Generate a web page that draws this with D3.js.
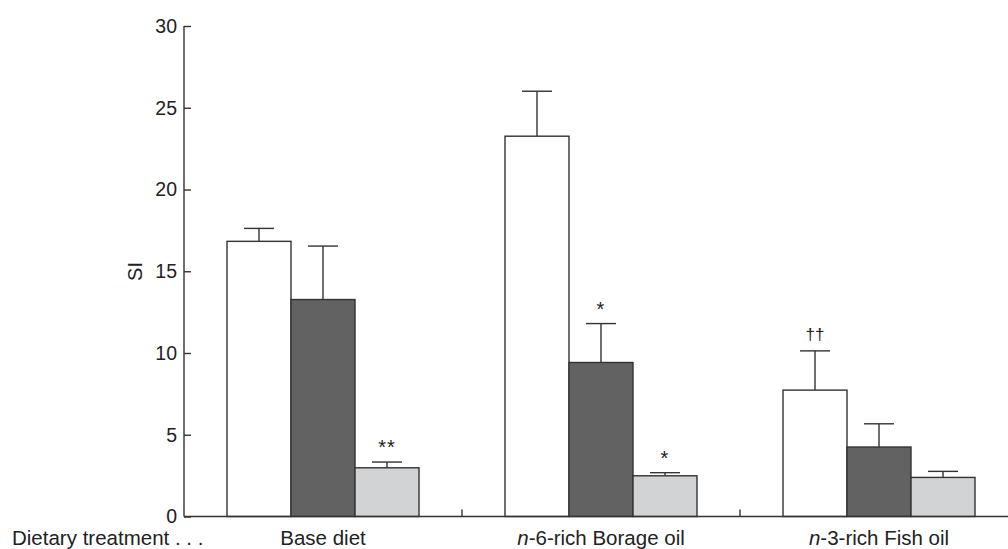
<!DOCTYPE html>
<html>
<head>
<meta charset="utf-8">
<script src="https://cdn.jsdelivr.net/npm/d3@7"></script>
<style>
  body { margin: 0; background: #fff; }
  text { font-family: 'Liberation Sans', Arial, sans-serif; fill: #222; }
</style>
</head>
<body>
<div id="chart"></div>
<script>
// data
var groups = ['Base diet', 'n-6-rich Borage oil', 'n-3-rich Fish oil'];
var series = ['a', 'b', 'c'];
var whiteMean = [16.83, 23.26, 7.73];
var whiteSE = [0.79, 2.75, 2.4];
var darkMean = [13.27, 9.42, 4.25];
var darkSE = [3.27, 2.38, 1.42];
var lightMean = [2.98, 2.49, 2.39];
var lightSE = [0.35, 0.19, 0.37];
var whiteMarks = ['', '', '\u2020\u2020'];
var darkMarks = ['', '*', ''];
var lightMarks = ['**', '*', ''];
var yTicks = [0, 5, 10, 15, 20, 25, 30];

var colors = { a: '#ffffff', b: '#626262', c: '#d2d3d5' };

var rows = [];
groups.forEach(function (g, i) {
  rows.push({ group: g, s: 'a', v: whiteMean[i], se: whiteSE[i], mark: whiteMarks[i] });
  rows.push({ group: g, s: 'b', v: darkMean[i], se: darkSE[i], mark: darkMarks[i] });
  rows.push({ group: g, s: 'c', v: lightMean[i], se: lightSE[i], mark: lightMarks[i] });
});

var W = 1008, H = 549;
var svg = d3.select('#chart').append('svg').attr('width', W).attr('height', H);

// scales
var x0 = d3.scaleBand().domain(groups).range([184, 1018]).padding(0);
var inner = 192;
var x1 = d3.scaleBand().domain(series).range([0, inner]).padding(0);
var y = d3.scaleLinear().domain([0, 30]).range([516.5, 26]);

var off = (x0.bandwidth() - inner) / 2;

// bars
svg.append('g')
  .selectAll('rect')
  .data(rows)
  .enter()
  .append('rect')
  .attr('x', function (d) { return x0(d.group) + off + x1(d.s); })
  .attr('y', function (d) { return y(d.v); })
  .attr('width', x1.bandwidth())
  .attr('height', function (d) { return y(0) - y(d.v); })
  .attr('fill', function (d) { return colors[d.s]; })
  .attr('stroke', '#333')
  .attr('stroke-width', 1.4);

// error bars (upper only)
var eb = svg.append('g').attr('stroke', '#333').attr('stroke-width', 1.4);
rows.forEach(function (d) {
  var cx = x0(d.group) + off + x1(d.s) + x1.bandwidth() / 2;
  var top = y(d.v + d.se);
  eb.append('line')
    .attr('x1', cx).attr('x2', cx)
    .attr('y1', y(d.v)).attr('y2', top);
  eb.append('line')
    .attr('x1', cx - 15).attr('x2', cx + 15)
    .attr('y1', top).attr('y2', top);
  if (d.mark) {
    var star = d.mark.indexOf('*') >= 0;
    svg.append('text')
      .attr('x', cx)
      .attr('y', top - (star ? 8 : 11))
      .attr('text-anchor', 'middle')
      .attr('font-size', star ? 20 : 17)
      .attr('fill', star ? '#444' : '#222')
      .attr('letter-spacing', star ? 1 : 0)
      .text(d.mark);
  }
});

// y axis: ticks point inward
var yAxis = svg.append('g')
  .attr('transform', 'translate(184,0)')
  .call(d3.axisRight(y).tickValues(yTicks).tickSize(7).tickFormat(d3.format('d')));
yAxis.select('.domain').attr('stroke', '#333').attr('stroke-width', 1.4)
  .attr('d', 'M0,' + y(30) + 'V' + y(0));
yAxis.selectAll('.tick line').attr('stroke', '#333').attr('stroke-width', 1.4);
yAxis.selectAll('.tick text')
  .attr('x', -7)
  .attr('text-anchor', 'end')
  .attr('font-size', 19.5)
  .attr('fill', '#222')
  .attr('font-family', "'Liberation Sans', Arial, sans-serif");

// y label
svg.append('text')
  .attr('transform', 'translate(142,' + 271.5 + ') rotate(-90)')
  .attr('text-anchor', 'middle')
  .attr('font-size', 20)
  .text('SI');

// x axis line
var xg = svg.append('g').attr('stroke', '#333').attr('stroke-width', 1.4);
xg.append('line')
  .attr('x1', 184).attr('x2', W)
  .attr('y1', y(0)).attr('y2', y(0));
// group separators
groups.slice(1).forEach(function (g) {
  xg.append('line')
    .attr('x1', x0(g)).attr('x2', x0(g))
    .attr('y1', y(0)).attr('y2', y(0) - 7);
});

// category labels
var lab = svg.append('g');
groups.forEach(function (g) {
  var t = lab.append('text')
    .attr('x', x0(g) + x0.bandwidth() / 2)
    .attr('y', 544.5)
    .attr('text-anchor', 'middle')
    .attr('font-size', 20.5);
  if (g.indexOf('n-') === 0) {
    t.append('tspan').attr('font-style', 'italic').text('n');
    t.append('tspan').text(g.slice(1));
  } else {
    t.text(g);
  }
});
lab.append('text')
  .attr('x', 12)
  .attr('y', 544.5)
  .attr('font-size', 20.5)
  .text('Dietary treatment . . .');
</script>
</body>
</html>
